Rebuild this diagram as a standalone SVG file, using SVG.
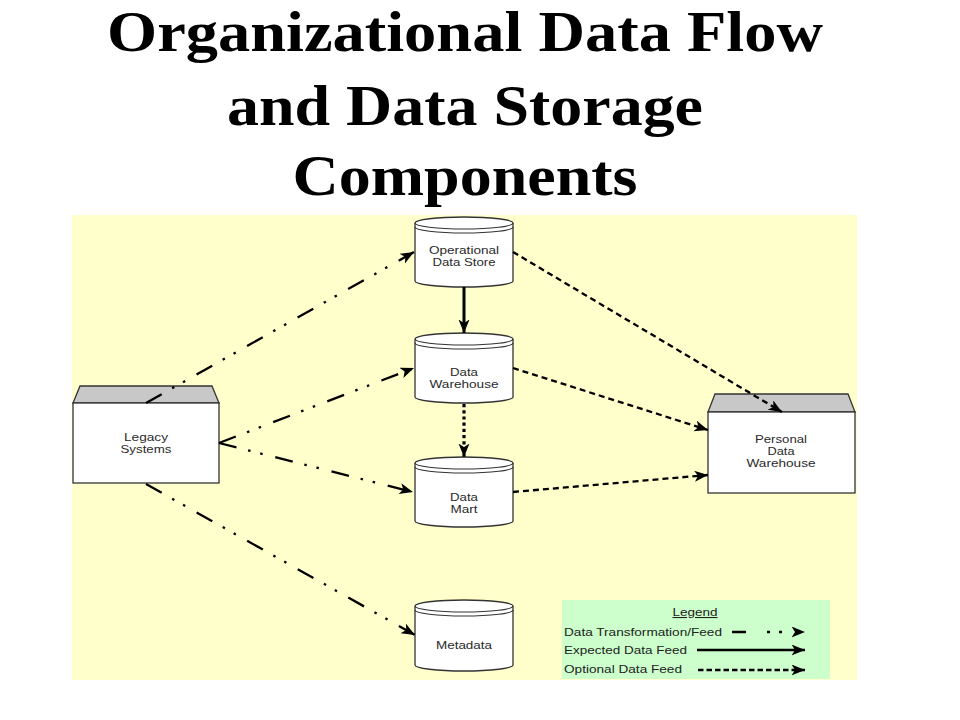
<svg xmlns="http://www.w3.org/2000/svg" width="960" height="720" viewBox="0 0 960 720">
<style>
.title{font-family:"Liberation Serif","Times New Roman",serif;font-weight:bold;font-size:56px;fill:#000;text-anchor:middle}
.lbl{font-family:"Liberation Sans",Arial,sans-serif;font-size:10.5px;fill:#2a2a2a;text-anchor:middle}
.leg{font-family:"Liberation Sans",Arial,sans-serif;font-size:10.8px;fill:#222}
.body{fill:#fff;stroke:#333;stroke-width:1.3}
.roof{fill:#c8c8c8;stroke:#333;stroke-width:1.3}
.cyl{fill:#fff;stroke:#333;stroke-width:1.3}
.inner{fill:none;stroke:#333;stroke-width:1.1}
.feed{fill:none;stroke:#000;stroke-width:2.3;stroke-dasharray:18 12 2.5 10 2.5 13}
.exp{fill:none;stroke:#000;stroke-width:3}
.opt{fill:none;stroke:#000;stroke-width:2.3;stroke-dasharray:6 4}
.dot{fill:none;stroke:#000;stroke-width:3.2;stroke-dasharray:3.2 3}
</style>
<defs>
<marker id="ah" markerUnits="userSpaceOnUse" markerWidth="15" markerHeight="12" refX="13.5" refY="5.5" orient="auto">
<path d="M0,0 L13.5,5.5 L0,11 L3.5,5.5 Z" fill="#000"/>
</marker>
</defs>
<rect width="960" height="720" fill="#fff"/>
<g id="title">
<text class="title" x="465" y="51" textLength="716" lengthAdjust="spacingAndGlyphs">Organizational Data Flow</text>
<text class="title" x="465" y="125" textLength="476" lengthAdjust="spacingAndGlyphs">and Data Storage</text>
<text class="title" x="465" y="195" textLength="345" lengthAdjust="spacingAndGlyphs">Components</text>
</g>
<rect id="canvas" x="72" y="215" width="785" height="465" fill="#ffffcc"/>
<g id="legacy">
<path class="roof" d="M80,386 L212,386 L219,403 L73,403 Z"/>
<rect class="body" x="73" y="403" width="146" height="80"/>
<text class="lbl" x="146" y="441" textLength="44" lengthAdjust="spacingAndGlyphs">Legacy</text>
<text class="lbl" x="146" y="453" textLength="51" lengthAdjust="spacingAndGlyphs">Systems</text>
</g>
<g id="ods">
<path class="cyl" d="M415,223 A49,6 0 0 1 513,223 L513,281 A49,6 0 0 1 415,281 Z"/>
<path class="inner" d="M415,223 A49,6 0 0 0 513,223"/>
<path class="inner" d="M415,227 A49,6 0 0 0 513,227"/>
<text class="lbl" x="464" y="254" textLength="70" lengthAdjust="spacingAndGlyphs">Operational</text>
<text class="lbl" x="464" y="266" textLength="63" lengthAdjust="spacingAndGlyphs">Data Store</text>
</g>
<g id="dw">
<path class="cyl" d="M415,339 A49,6 0 0 1 513,339 L513,397 A49,6 0 0 1 415,397 Z"/>
<path class="inner" d="M415,339 A49,6 0 0 0 513,339"/>
<path class="inner" d="M415,343 A49,6 0 0 0 513,343"/>
<text class="lbl" x="464" y="376" textLength="28" lengthAdjust="spacingAndGlyphs">Data</text>
<text class="lbl" x="464" y="388" textLength="69" lengthAdjust="spacingAndGlyphs">Warehouse</text>
</g>
<g id="dm">
<path class="cyl" d="M415,463 A49,6 0 0 1 513,463 L513,521 A49,6 0 0 1 415,521 Z"/>
<path class="inner" d="M415,463 A49,6 0 0 0 513,463"/>
<path class="inner" d="M415,467 A49,6 0 0 0 513,467"/>
<text class="lbl" x="464" y="501" textLength="28" lengthAdjust="spacingAndGlyphs">Data</text>
<text class="lbl" x="464" y="513" textLength="27" lengthAdjust="spacingAndGlyphs">Mart</text>
</g>
<g id="metadata">
<path class="cyl" d="M415,606 A49,6 0 0 1 513,606 L513,665 A49,6 0 0 1 415,665 Z"/>
<path class="inner" d="M415,606 A49,6 0 0 0 513,606"/>
<path class="inner" d="M415,610 A49,6 0 0 0 513,610"/>
<text class="lbl" x="464" y="649" textLength="56" lengthAdjust="spacingAndGlyphs">Metadata</text>
</g>
<g id="pdw">
<path class="roof" d="M715,394 L848,394 L855,412 L708,412 Z"/>
<rect class="body" x="708" y="412" width="147" height="81"/>
<text class="lbl" x="781" y="443" textLength="52" lengthAdjust="spacingAndGlyphs">Personal</text>
<text class="lbl" x="781" y="455" textLength="27" lengthAdjust="spacingAndGlyphs">Data</text>
<text class="lbl" x="781" y="467" textLength="69" lengthAdjust="spacingAndGlyphs">Warehouse</text>
</g>
<g id="connectors">
<line class="feed" x1="146" y1="403" x2="414" y2="252" marker-end="url(#ah)"/>
<line class="feed" x1="219" y1="443" x2="414" y2="368" marker-end="url(#ah)"/>
<line class="feed" x1="219" y1="443" x2="413" y2="492" marker-end="url(#ah)"/>
<line class="feed" x1="146" y1="484" x2="415" y2="635" marker-end="url(#ah)"/>
<line class="exp" x1="464" y1="287" x2="464" y2="333" marker-end="url(#ah)"/>
<line class="dot" x1="464" y1="404" x2="464" y2="457" marker-end="url(#ah)"/>
<line class="opt" x1="513" y1="252" x2="782" y2="412" marker-end="url(#ah)"/>
<line class="opt" x1="513" y1="368" x2="708" y2="430" marker-end="url(#ah)"/>
<line class="opt" x1="513" y1="492" x2="708" y2="475" marker-end="url(#ah)"/>
</g>
<g id="legend">
<rect x="562" y="600" width="268" height="79" fill="#ccffcc"/>
<text class="leg" x="695" y="616" text-anchor="middle" text-decoration="underline" textLength="45" lengthAdjust="spacingAndGlyphs">Legend</text>
<text class="leg" x="564" y="636" textLength="158" lengthAdjust="spacingAndGlyphs">Data Transformation/Feed</text>
<text class="leg" x="564" y="654" textLength="123" lengthAdjust="spacingAndGlyphs">Expected Data Feed</text>
<text class="leg" x="564" y="673" textLength="118" lengthAdjust="spacingAndGlyphs">Optional Data Feed</text>
<line x1="732" y1="632" x2="805" y2="632" stroke="#000" stroke-width="2.3" stroke-dasharray="14 21 3 9 3 100" marker-end="url(#ah)"/>
<line x1="697" y1="650" x2="805" y2="650" stroke="#000" stroke-width="2.3" marker-end="url(#ah)"/>
<line x1="698" y1="670" x2="805" y2="670" stroke="#000" stroke-width="2.3" stroke-dasharray="5.5 3" marker-end="url(#ah)"/>
</g>
</svg>
